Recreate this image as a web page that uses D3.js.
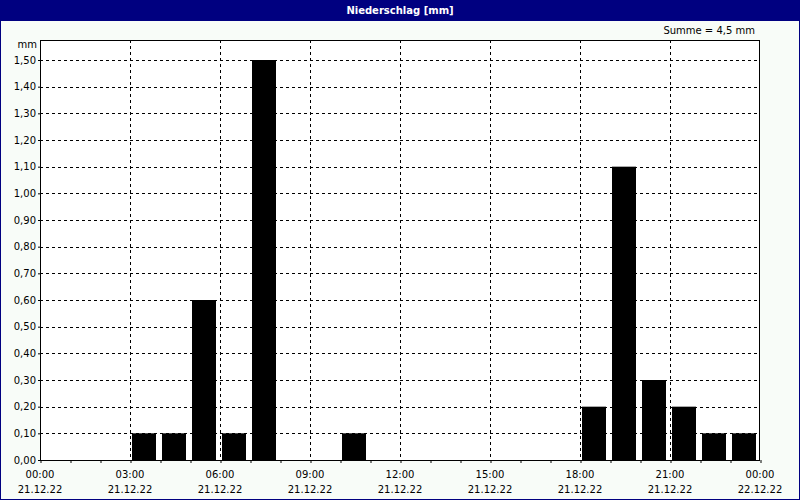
<!DOCTYPE html>
<html><head><meta charset="utf-8">
<script src="https://cdn.jsdelivr.net/npm/d3@7"></script>
<style>
html,body{margin:0;padding:0;background:#fff;}
svg{display:block;}
text{font-family:Tahoma,"DejaVu Sans",sans-serif;font-size:10px;fill:#000;}
</style></head>
<body>
<svg id="c" width="800" height="500"></svg>
<script>
const hours = [0,1,2,3,4,5,6,7,8,9,10,11,12,13,14,15,16,17,18,19,20,21,22,23];
const values = [0,0,0,0.1,0.1,0.6,0.1,1.5,0,0,0.1,0,0,0,0,0,0,0,0.2,1.1,0.3,0.2,0.1,0.1];
const yTicks = [0,0.1,0.2,0.3,0.4,0.5,0.6,0.7,0.8,0.9,1.0,1.1,1.2,1.3,1.4,1.5];
const xTickHours = [0,3,6,9,12,15,18,21,24];
const xTimeLabels = ["00:00","03:00","06:00","09:00","12:00","15:00","18:00","21:00","00:00"];
const xDateLabels = ["21.12.22","21.12.22","21.12.22","21.12.22","21.12.22","21.12.22","21.12.22","21.12.22","22.12.22"];
const title = "Niederschlag [mm]";
const sumLabel = "Summe = 4,5 mm";

const svg = d3.select("#c");
svg.append("rect").attr("x",0.5).attr("y",0.5).attr("width",799).attr("height",499)
  .attr("fill","#f8fcf8").attr("stroke","#000080");
svg.append("rect").attr("x",0).attr("y",0).attr("width",800).attr("height",21).attr("fill","#000080");
svg.append("text").attr("x",400).attr("y",14).attr("text-anchor","middle")
  .style("fill","#fff").style("font-weight","bold").text(title);

const L=40,R=760,T=40,B=460;
const x = d3.scaleLinear().domain([0,24]).range([L,R]);
const y = d3.scaleLinear().domain([0,1.575]).range([B,T]);

svg.append("rect").attr("x",L).attr("y",T).attr("width",R-L).attr("height",B-T).attr("fill","#fff");

const g = svg.append("g");
// horizontal grid
g.selectAll(".hg").data(yTicks.filter(d=>d>0)).join("line")
  .attr("x1",L).attr("x2",R).attr("y1",d=>Math.round(y(d))+0.5).attr("y2",d=>Math.round(y(d))+0.5)
  .attr("stroke","#000").attr("stroke-dasharray","3,3");
// vertical grid
g.selectAll(".vg").data(xTickHours.filter(d=>d>0&&d<24)).join("line")
  .attr("y1",T).attr("y2",B).attr("x1",d=>Math.round(x(d))+0.5).attr("x2",d=>Math.round(x(d))+0.5)
  .attr("stroke","#000").attr("stroke-dasharray","3,3");

// bars
const band = d3.scaleBand().domain(hours).range([L,R]).paddingInner(0.2).paddingOuter(0.1).align(0.2);
svg.selectAll(".bar").data(hours.filter((h,i)=>values[i]>0)).join("rect")
  .attr("x",h=>Math.round(x(h))+2).attr("width",24)
  .attr("y",h=>y(values[h])).attr("height",h=>B-y(values[h]))
  .attr("fill","#000");

// frame
svg.append("rect").attr("x",L+0.5).attr("y",T+0.5).attr("width",R-L-1).attr("height",B-T)
  .attr("fill","none").attr("stroke","#000");

// x axis minor ticks
const xa = svg.append("g").attr("transform",`translate(0,${B})`)
  .call(d3.axisBottom(x).tickValues(d3.range(0,25)).tickSize(3).tickFormat(""));
xa.select(".domain").remove();
xa.selectAll("line").attr("transform","translate(0.5,0)");

// y axis
const ya = svg.append("g").attr("transform",`translate(${L},0)`)
  .call(d3.axisLeft(y).tickValues(yTicks).tickSize(2).tickPadding(2)
    .tickFormat(d=>d3.format(".2f")(d).replace(".",",")));
ya.select(".domain").remove();
ya.selectAll("text").style("font-family","Tahoma,'DejaVu Sans',sans-serif").style("font-size","10px");

svg.append("text").attr("x",37).attr("y",48).attr("text-anchor","end").text("mm");
svg.append("text").attr("x",755).attr("y",34).attr("text-anchor","end").text(sumLabel);

svg.selectAll(".tl").data(xTickHours).join("text")
  .attr("x",(d)=>x(d)).attr("y",478).attr("text-anchor","middle").text((d,i)=>xTimeLabels[i]);
svg.selectAll(".dl").data(xTickHours).join("text")
  .attr("x",(d)=>x(d)).attr("y",493).attr("text-anchor","middle").text((d,i)=>xDateLabels[i]);
</script>
</body></html>
